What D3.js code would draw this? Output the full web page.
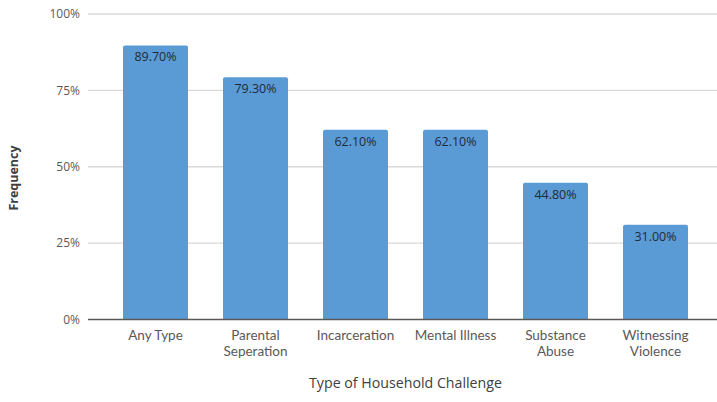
<!DOCTYPE html>
<html><head><meta charset="utf-8">
<script src="https://cdn.jsdelivr.net/npm/d3@7"></script>
<style>body{margin:0;background:#fff}svg{display:block}text{font-family:"Open Sans",sans-serif}</style>
</head><body><svg id="c" width="717" height="402"></svg>
<script>
const categories = ["Any Type", "Parental Seperation", "Incarceration", "Mental Illness", "Substance Abuse", "Witnessing Violence"];
const categoryLines = [["Any Type"], ["Parental", "Seperation"], ["Incarceration"], ["Mental Illness"], ["Substance", "Abuse"], ["Witnessing", "Violence"]];
const values = [89.7, 79.3, 62.1, 62.1, 44.8, 31.0];
const yTicks = [0, 25, 50, 75, 100];

const svg = d3.select("#c");
const y = d3.scaleLinear().domain([0, 100]).range([319.5, 14]);
const x = d3.scaleBand().domain(categories).range([105.5, 705.5]).paddingInner(0.35).paddingOuter(0.175);
const gridL = 88, gridR = 717;

svg.append("g").selectAll("line").data(yTicks.filter(d => d > 0)).join("line")
  .attr("x1", gridL).attr("x2", gridR).attr("y1", d => y(d)).attr("y2", d => y(d))
  .attr("stroke", "#d9d9d9").attr("stroke-width", 1.3);

svg.append("g").selectAll("text").data(yTicks).join("text")
  .attr("x", 80).attr("y", d => y(d)).attr("dy", "0.35em").attr("text-anchor", "end")
  .attr("font-size", 12).attr("fill", "#595959").text(d => d + "%");

svg.append("g").selectAll("path").data(values).join("path")
  .attr("fill", "#5b9bd5")
  .attr("d", (d, i) => {
    const x0 = x(categories[i]), w = x.bandwidth(), t = y(d), b = y(0), r = 2;
    return `M${x0},${b}V${t + r}Q${x0},${t} ${x0 + r},${t}H${x0 + w - r}Q${x0 + w},${t} ${x0 + w},${t + r}V${b}Z`;
  });

svg.append("g").selectAll("text").data(values).join("text")
  .attr("x", (d, i) => x(categories[i]) + x.bandwidth() / 2).attr("y", d => y(d) + 16)
  .attr("text-anchor", "middle").attr("font-size", 12.5).attr("fill", "#1e2b38")
  .text(d => d.toFixed(2) + "%");

svg.append("line").attr("x1", gridL).attr("x2", gridR).attr("y1", y(0)).attr("y2", y(0))
  .attr("stroke", "#595959").attr("stroke-width", 1.5);

const lineItems = categoryLines.flatMap((lines, i) => lines.map((t, j) => ({ cat: categories[i], t, j })));
svg.append("g").selectAll("text").data(lineItems).join("text")
  .attr("x", d => x(d.cat) + x.bandwidth() / 2).attr("y", d => 339.5 + d.j * 16.4)
  .attr("text-anchor", "middle").attr("font-size", 13.5).attr("fill", "#595959")
  .style("font-family", "Lato, sans-serif")
  .text(d => d.t);

svg.append("text").attr("x", 405.5).attr("y", 388).attr("text-anchor", "middle")
  .attr("font-size", 14.2).attr("fill", "#404040").text("Type of Household Challenge");

svg.append("text").attr("transform", "translate(18,178) rotate(-90)").attr("text-anchor", "middle")
  .attr("font-size", 12.5).attr("font-weight", "bold").attr("fill", "#404040").text("Frequency");
</script></body></html>
